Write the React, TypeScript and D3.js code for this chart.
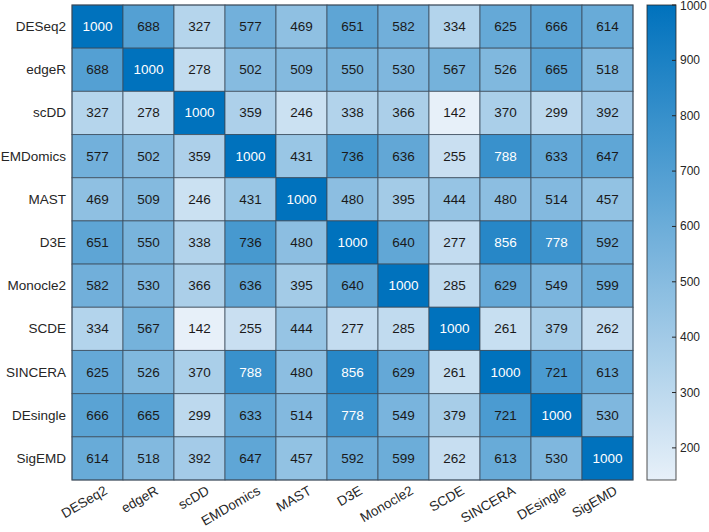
import React from "react";
import * as d3 from "d3";

const methods = ["DESeq2", "edgeR", "scDD", "EMDomics", "MAST", "D3E", "Monocle2", "SCDE", "SINCERA", "DEsingle", "SigEMD"];

const rowDESeq2 = [1000, 688, 327, 577, 469, 651, 582, 334, 625, 666, 614];
const rowEdgeR = [688, 1000, 278, 502, 509, 550, 530, 567, 526, 665, 518];
const rowScDD = [327, 278, 1000, 359, 246, 338, 366, 142, 370, 299, 392];
const rowEMDomics = [577, 502, 359, 1000, 431, 736, 636, 255, 788, 633, 647];
const rowMAST = [469, 509, 246, 431, 1000, 480, 395, 444, 480, 514, 457];
const rowD3E = [651, 550, 338, 736, 480, 1000, 640, 277, 856, 778, 592];
const rowMonocle2 = [582, 530, 366, 636, 395, 640, 1000, 285, 629, 549, 599];
const rowSCDE = [334, 567, 142, 255, 444, 277, 285, 1000, 261, 379, 262];
const rowSINCERA = [625, 526, 370, 788, 480, 856, 629, 261, 1000, 721, 613];
const rowDEsingle = [666, 665, 299, 633, 514, 778, 549, 379, 721, 1000, 530];
const rowSigEMD = [614, 518, 392, 647, 457, 592, 599, 262, 613, 530, 1000];

const matrix = [rowDESeq2, rowEdgeR, rowScDD, rowEMDomics, rowMAST, rowD3E, rowMonocle2, rowSCDE, rowSINCERA, rowDEsingle, rowSigEMD];

const colorTicks = [200, 300, 400, 500, 600, 700, 800, 900, 1000];

const W = 709, H = 532;
const left = 72, right = 633, top = 5, bottom = 480;
const cbLeft = 647, cbRight = 676;
const FONT = "'Liberation Sans', Arial, Helvetica, sans-serif";

export default function App() {
  const all = matrix.flat();
  const vmin = d3.min(all) as number;
  const vmax = d3.max(all) as number;
  const x = d3.scaleBand<string>().domain(methods).range([left, right]);
  const y = d3.scaleBand<string>().domain(methods).range([top, bottom]);
  const color = d3.scaleLinear<string>().domain([vmin, vmax]).range(["#e7f0f9", "#0072bd"]).interpolate(d3.interpolateRgb);
  const cy = d3.scaleLinear().domain([vmin, vmax]).range([bottom, top]);
  const gradStops = d3.range(0, 1.0001, 0.05);

  return (
    <svg width={W} height={H} style={{ position: "absolute", left: 0, top: 0, fontFamily: FONT }}>
      <defs>
        <linearGradient id="cb" x1="0" y1="1" x2="0" y2="0">
          {gradStops.map((t) => (
            <stop key={t} offset={`${t * 100}%`} stopColor={color(vmin + t * (vmax - vmin))} />
          ))}
        </linearGradient>
      </defs>
      <rect x={0} y={0} width={W} height={H} fill="white" />
      {matrix.map((row, i) =>
        row.map((v, j) => (
          <g key={`${i}-${j}`}>
            <rect
              x={x(methods[j])}
              y={y(methods[i])}
              width={x.bandwidth()}
              height={y.bandwidth()}
              fill={color(v)}
              stroke="#3a4a58"
              strokeOpacity={0.75}
              strokeWidth={1}
            />
            <text
              x={(x(methods[j]) as number) + x.bandwidth() / 2}
              y={(y(methods[i]) as number) + y.bandwidth() / 2}
              textAnchor="middle"
              dominantBaseline="central"
              fontSize={13.5}
              fill={v > 750 ? "#ffffff" : "#1a1a1a"}
            >
              {v}
            </text>
          </g>
        ))
      )}
      <rect x={left} y={top} width={right - left} height={bottom - top} fill="none" stroke="#3a4a58" strokeOpacity={0.8} />
      {methods.map((m) => (
        <text
          key={"y" + m}
          x={left - 6}
          y={(y(m) as number) + y.bandwidth() / 2}
          textAnchor="end"
          dominantBaseline="central"
          fontSize={13.5}
          fill="#262626"
        >
          {m}
        </text>
      ))}
      {methods.map((m) => {
        const cx = (x(m) as number) + x.bandwidth() / 2 + 6;
        const ty = bottom + 5;
        return (
          <text
            key={"x" + m}
            transform={`translate(${cx},${ty}) rotate(-30)`}
            textAnchor="end"
            dominantBaseline="hanging"
            fontSize={13.5}
            fill="#262626"
          >
            {m}
          </text>
        );
      })}
      <rect x={cbLeft} y={top} width={cbRight - cbLeft} height={bottom - top} fill="url(#cb)" stroke="#262626" strokeOpacity={0.8} />
      {colorTicks.map((t) => (
        <g key={"c" + t}>
          <line x1={cbRight - 4} x2={cbRight} y1={cy(t)} y2={cy(t)} stroke="#262626" />
          <text x={cbRight + 4} y={cy(t) + (t === 1000 ? 1 : 0)} dominantBaseline="central" fontSize={12} fill="#262626">
            {t}
          </text>
        </g>
      ))}
    </svg>
  );
}
